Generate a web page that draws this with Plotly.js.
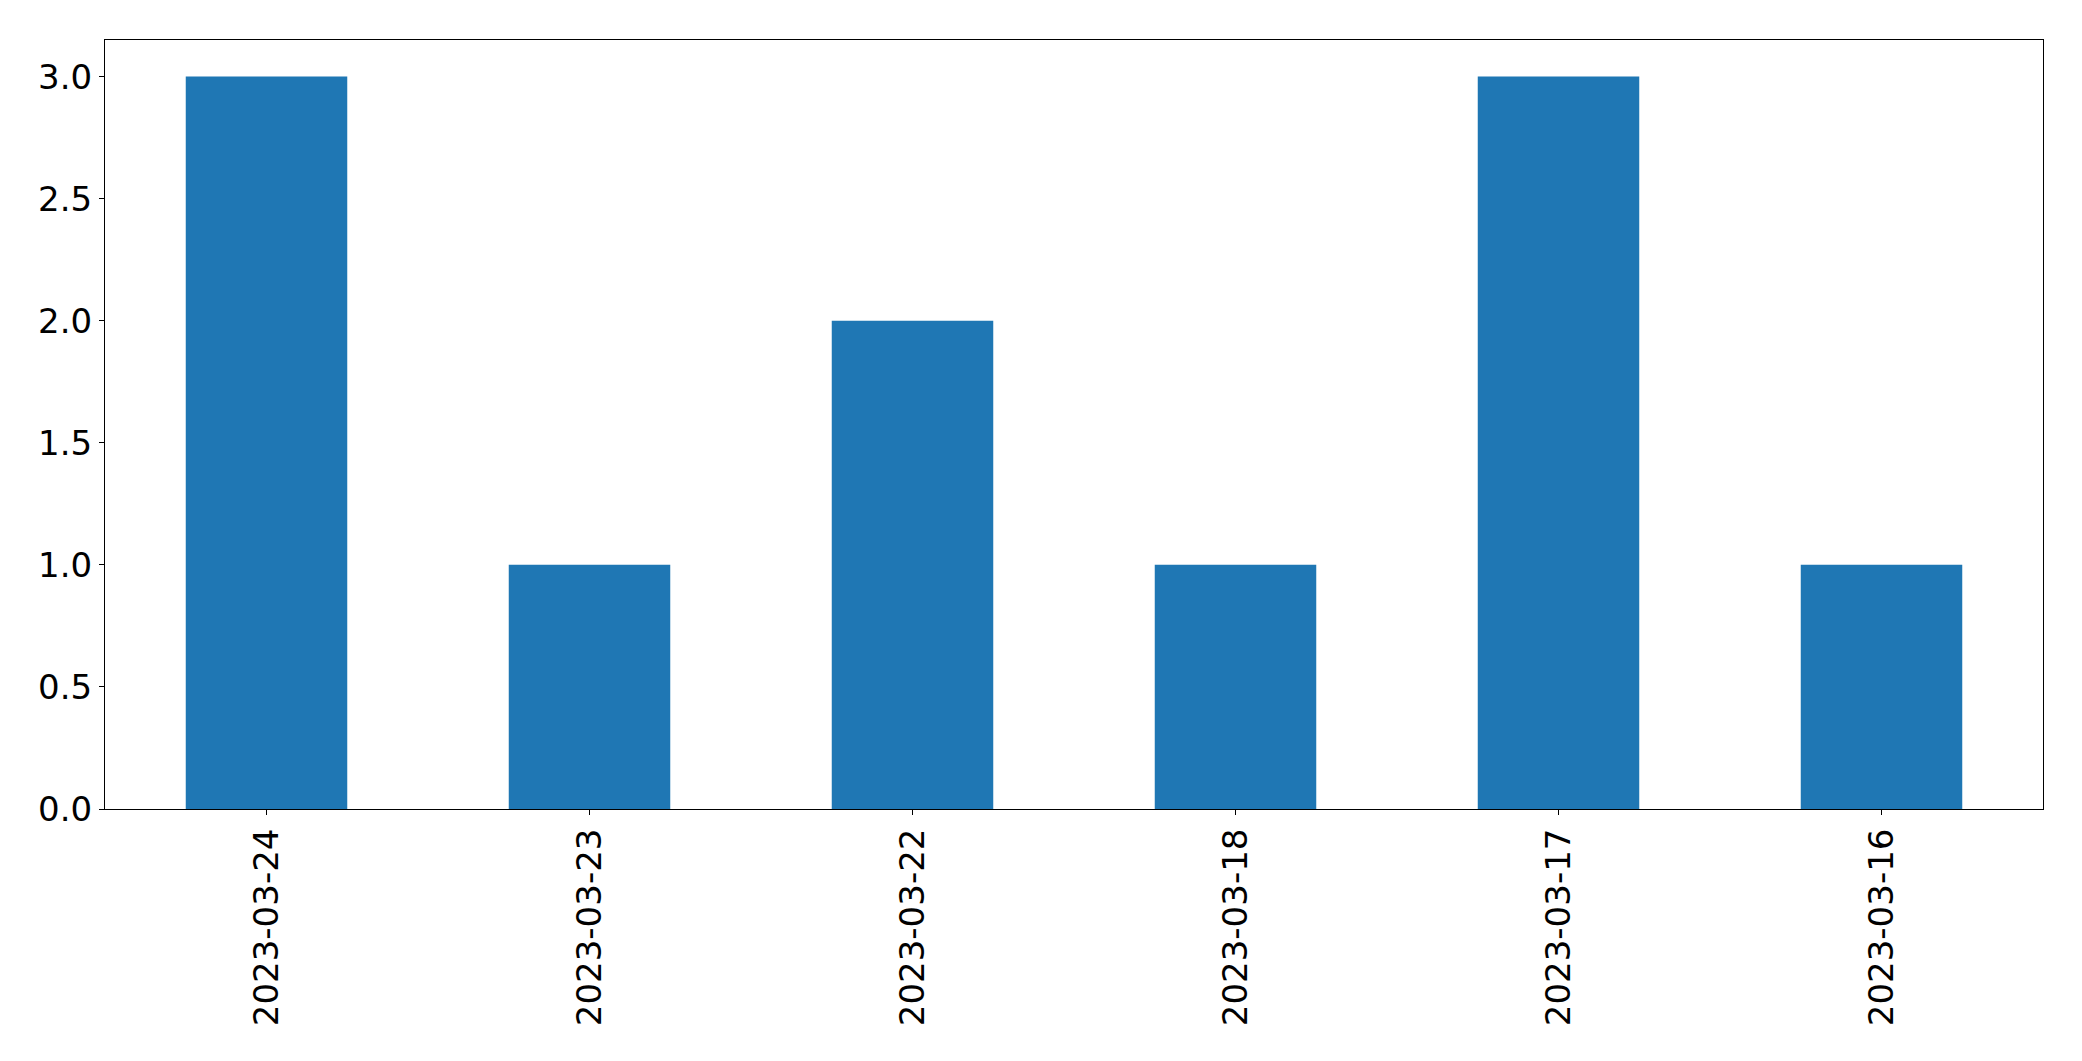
<!DOCTYPE html>
<html>
<head>
<meta charset="utf-8">
<script src="https://cdn.plot.ly/plotly-3.0.1.min.js"></script>
<style>html,body{margin:0;padding:0;background:#fff;}#chart{width:2082px;height:1061px;}</style>
</head>
<body>
<div id="chart"></div>
<script>
const categories = ["2023-03-24", "2023-03-23", "2023-03-22", "2023-03-18", "2023-03-17", "2023-03-16"];
const counts = [3, 1, 2, 1, 3, 1];
const yTickValues = [0, 0.5, 1, 1.5, 2, 2.5, 3];

const trace = {
  type: 'bar',
  x: categories,
  y: counts,
  marker: {color: '#1f77b4', line: {width: 0}},
  hoverinfo: 'x+y'
};

const fontFamily = '"DejaVu Sans", sans-serif';
const layout = {
  width: 2082,
  height: 1061,
  margin: {l: 105, r: 39, t: 40, b: 252, pad: 0},
  paper_bgcolor: '#ffffff',
  plot_bgcolor: '#ffffff',
  showlegend: false,
  bargap: 0.5,
  font: {family: fontFamily, size: 34, color: '#000000'},
  xaxis: {
    type: 'category',
    range: [-0.5, 5.5],
    tickangle: -90,
    ticks: 'outside',
    ticklen: 5,
    tickwidth: 1,
    tickcolor: '#000',
    showline: true,
    linecolor: '#000',
    linewidth: 1,
    mirror: true,
    showgrid: false,
    zeroline: false,
    tickfont: {family: fontFamily, size: 34, color: '#000'}
  },
  yaxis: {
    range: [0, 3.15],
    tickvals: yTickValues,
    tickformat: '.1f',
    ticks: 'outside',
    ticklen: 5,
    tickwidth: 1,
    tickcolor: '#000',
    showline: true,
    linecolor: '#000',
    linewidth: 1,
    mirror: true,
    showgrid: false,
    zeroline: false,
    tickfont: {family: fontFamily, size: 34, color: '#000'}
  }
};

Plotly.newPlot('chart', [trace], layout, {displayModeBar: false, staticPlot: true});
</script>
</body>
</html>
